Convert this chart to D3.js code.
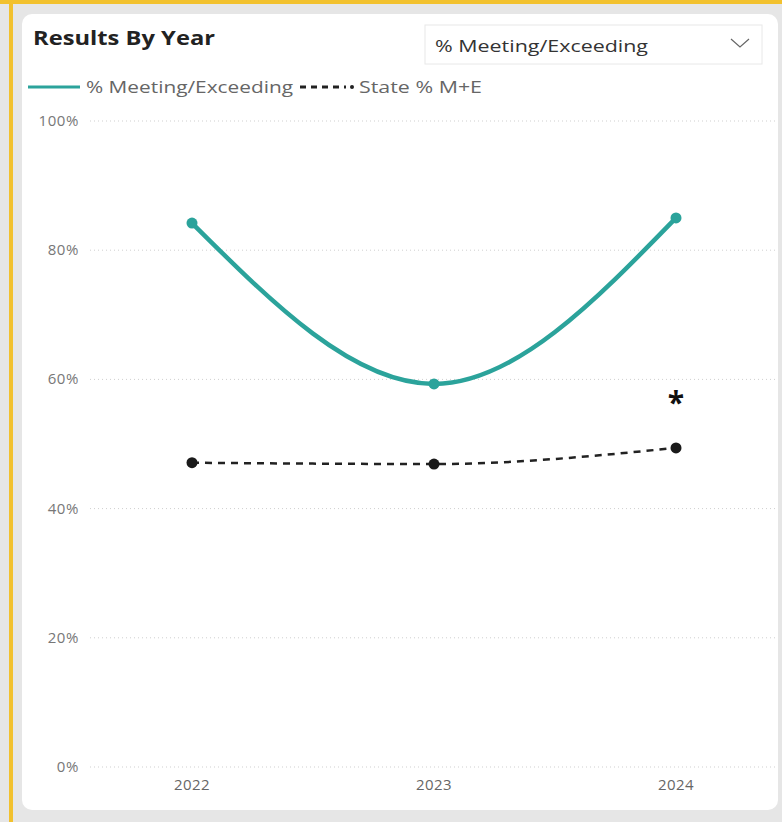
<!DOCTYPE html>
<html><head><meta charset="utf-8">
<script src="https://cdn.jsdelivr.net/npm/d3@7"></script>
<style>body{margin:0;background:#fff;}svg{display:block;font-family:"Segoe UI","Open Sans","DejaVu Sans",sans-serif;}</style>
</head><body>
<svg id="c" width="782" height="822"></svg>
<script>
const years = ["2022","2023","2024"];
const schoolPct = [84.2, 59.3, 85.0];
const statePct = [47.1, 46.9, 49.4];
const yTicks = [0,20,40,60,80,100];
const seriesNames = ["% Meeting/Exceeding","State % M+E"];

const svg = d3.select("#c");
// frame
svg.append("rect").attr("x",0).attr("y",0).attr("width",782).attr("height",822).attr("fill","#e6e6e6");
svg.append("rect").attr("x",0).attr("y",0).attr("width",782).attr("height",4).attr("fill","#f2c12e");
svg.append("rect").attr("x",9).attr("y",0).attr("width",4).attr("height",822).attr("fill","#f2c12e");
svg.append("rect").attr("x",22).attr("y",14).attr("width",756).attr("height",796).attr("rx",10).attr("fill","#fff");

// title
svg.append("text").attr("x",33).attr("y",45).attr("font-size",20).attr("font-weight",700).attr("fill","#222")
  .attr("textLength",182).attr("lengthAdjust","spacingAndGlyphs").text("Results By Year");
// dropdown
svg.append("rect").attr("x",425).attr("y",25).attr("width",337).attr("height",39).attr("fill","#fff").attr("stroke","#e8e8e8");
svg.append("text").attr("x",435).attr("y",52).attr("font-size",17).attr("fill","#333")
  .attr("textLength",213).attr("lengthAdjust","spacingAndGlyphs").text("% Meeting/Exceeding");
svg.append("path").attr("d","M731,39 L740,47 L749,39").attr("fill","none").attr("stroke","#666").attr("stroke-width",1.2);

// legend
svg.append("line").attr("x1",28).attr("x2",80).attr("y1",87).attr("y2",87).attr("stroke","#2ba39b").attr("stroke-width",3);
svg.append("text").attr("x",86).attr("y",93).attr("font-size",17).attr("fill","#666")
  .attr("textLength",207).attr("lengthAdjust","spacingAndGlyphs").text(seriesNames[0]);
svg.append("line").attr("x1",300).attr("x2",346).attr("y1",87).attr("y2",87).attr("stroke","#222").attr("stroke-width",3).attr("stroke-dasharray","6,5");
svg.append("circle").attr("cx",352).attr("cy",87).attr("r",2).attr("fill","#222");
svg.append("text").attr("x",359).attr("y",93).attr("font-size",17).attr("fill","#666")
  .attr("textLength",123).attr("lengthAdjust","spacingAndGlyphs").text(seriesNames[1]);

const x = d3.scalePoint().domain(years).range([192,676]);
const y = d3.scaleLinear().domain([0,100]).range([767,121]);

// grid
const g = svg.append("g");
g.selectAll("line.grid").data(yTicks).join("line")
  .attr("x1",90).attr("x2",775).attr("y1",d=>y(d)).attr("y2",d=>y(d))
  .attr("stroke","#cfcfcf").attr("stroke-width",1).attr("stroke-dasharray","1,3");
g.selectAll("text.yl").data(yTicks).join("text")
  .attr("x",79).attr("y",d=>y(d)+5).attr("text-anchor","end").attr("font-size",15).attr("letter-spacing",0.6).attr("fill","#777")
  .text(d=>d+"%");
g.selectAll("text.xl").data(years).join("text")
  .attr("x",d=>x(d)).attr("y",790).attr("text-anchor","middle").attr("font-size",15).attr("letter-spacing",0.4).attr("fill","#666")
  .text(d=>d);

const line = d3.line().x((d,i)=>x(years[i])).y(d=>y(d)).curve(d3.curveMonotoneX);
svg.append("path").attr("d",line(statePct)).attr("fill","none").attr("stroke","#222").attr("stroke-width",2.5).attr("stroke-dasharray","7,6");
svg.selectAll("circle.s").data(statePct).join("circle").attr("cx",(d,i)=>x(years[i])).attr("cy",d=>y(d)).attr("r",5.5).attr("fill","#1a1a1a");
svg.append("path").attr("d",line(schoolPct)).attr("fill","none").attr("stroke","#2ba39b").attr("stroke-width",4.5);
svg.selectAll("circle.m").data(schoolPct).join("circle").attr("cx",(d,i)=>x(years[i])).attr("cy",d=>y(d)).attr("r",5.5).attr("fill","#2ba39b");

svg.append("text").attr("x",x("2024")).attr("y",413).attr("text-anchor","middle").attr("font-size",30).attr("font-weight",700).attr("fill","#111").text("*");
</script>
</body></html>
